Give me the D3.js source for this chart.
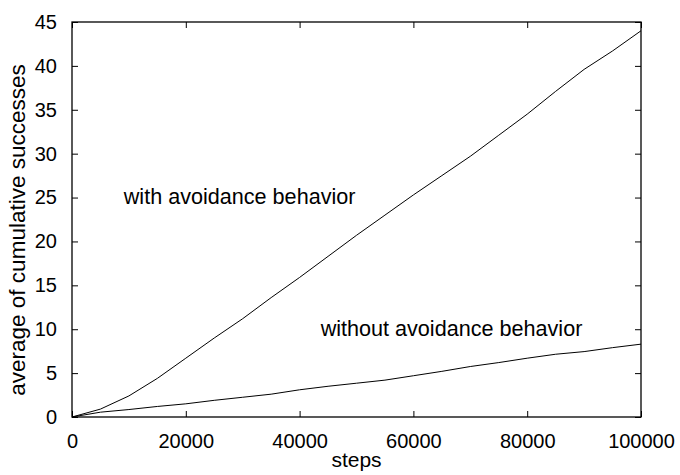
<!DOCTYPE html>
<html>
<head>
<meta charset="utf-8">
<script src="https://cdn.jsdelivr.net/npm/d3@7"></script>
<style>
  body { margin: 0; background: #fff; }
  text { font-family: "Liberation Sans", Arial, sans-serif; fill: #000; }
</style>
</head>
<body>
<div id="chart"></div>
<script>

// steps along x
var steps = [0, 5000, 10000, 15000, 20000, 25000, 30000, 35000, 40000, 45000, 50000,
             55000, 60000, 65000, 70000, 75000, 80000, 85000, 90000, 95000, 100000];

// average cumulative successes
var withAvoid = [0, 0.9, 2.4, 4.4, 6.7, 9.0, 11.2, 13.6, 15.9, 18.3, 20.7,
                 23.0, 25.3, 27.5, 29.7, 32.1, 34.5, 37.1, 39.6, 41.7, 44.0];
var withoutAvoid = [0, 0.55, 0.85, 1.2, 1.5, 1.9, 2.25, 2.6, 3.1, 3.5, 3.85,
                    4.2, 4.7, 5.2, 5.75, 6.2, 6.7, 7.15, 7.45, 7.9, 8.3];

var xTickValues = [0, 20000, 40000, 60000, 80000, 100000];
var yTickValues = [0, 5, 10, 15, 20, 25, 30, 35, 40, 45];

var labels = [
    { text: 'with avoidance behavior', x: 9100, y: 24.3 },
    { text: 'without avoidance behavior', x: 43700, y: 9.2 }
];

var width = 680;
var height = 475;
var mLeft = 72, mRight = 641, mTop = 22, mBottom = 417;

var svg = d3.select('#chart')
    .append('svg')
        .attr('width', width)
        .attr('height', height);

var x = d3.scaleLinear()
    .domain([0, 100000])
    .range([mLeft, mRight]);

var y = d3.scaleLinear()
    .domain([0, 45])
    .range([mBottom, mTop]);

// axes, ticks pointing inwards
var xAxis = d3.axisBottom(x)
    .tickValues(xTickValues)
    .tickFormat(d3.format('d'))
    .tickSizeInner(-6)
    .tickSizeOuter(0)
    .tickPadding(17);

var yAxis = d3.axisLeft(y)
    .tickValues(yTickValues)
    .tickSizeInner(-6)
    .tickSizeOuter(0)
    .tickPadding(15);

var xTop = d3.axisTop(x)
    .tickValues(xTickValues)
    .tickFormat('')
    .tickSizeInner(-6)
    .tickSizeOuter(0);

var yRight = d3.axisRight(y)
    .tickValues(yTickValues)
    .tickFormat('')
    .tickSizeInner(-6)
    .tickSizeOuter(0);

function styleAxis(g) {
    g.select('.domain').remove();
    g.selectAll('line').attr('stroke', '#000').attr('stroke-width', 1);
    g.selectAll('text')
        .style('font-family', '"Liberation Sans", Arial, sans-serif')
        .style('font-size', '20px')
        .attr('fill', '#000');
}

svg.append('g')
    .attr('transform', 'translate(0,' + mBottom + ')')
    .call(xAxis)
    .call(styleAxis);

svg.append('g')
    .attr('transform', 'translate(' + mLeft + ',0)')
    .call(yAxis)
    .call(styleAxis);

svg.append('g')
    .attr('transform', 'translate(0,' + mTop + ')')
    .call(xTop)
    .call(styleAxis);

svg.append('g')
    .attr('transform', 'translate(' + mRight + ',0)')
    .call(yRight)
    .call(styleAxis);

// frame
svg.append('rect')
    .attr('x', mLeft)
    .attr('y', mTop)
    .attr('width', mRight - mLeft)
    .attr('height', mBottom - mTop)
    .attr('fill', 'none')
    .attr('stroke', '#000')
    .attr('stroke-width', 1.3);

var line = d3.line()
    .x(function(d, i) { return x(steps[i]); })
    .y(function(d) { return y(d); });

[withAvoid, withoutAvoid].forEach(function(series) {
    svg.append('path')
        .datum(series)
        .attr('fill', 'none')
        .attr('stroke', '#000')
        .attr('stroke-width', 1)
        .attr('d', line);
});

svg.selectAll('.series-label')
    .data(labels)
    .enter().append('text')
        .attr('class', 'series-label')
        .attr('x', function(d) { return x(d.x); })
        .attr('y', function(d) { return y(d.y); })
        .style('font-size', '21.6px')
        .text(function(d) { return d.text; });

// axis titles
svg.append('text')
    .attr('x', (mLeft + mRight) / 2)
    .attr('y', 467)
    .attr('text-anchor', 'middle')
    .style('font-size', '21px')
    .text('steps');

svg.append('text')
    .attr('transform', 'translate(25,230) rotate(-90)')
    .attr('text-anchor', 'middle')
    .style('font-size', '22.5px')
    .text('average of cumulative successes');

</script>
</body>
</html>
